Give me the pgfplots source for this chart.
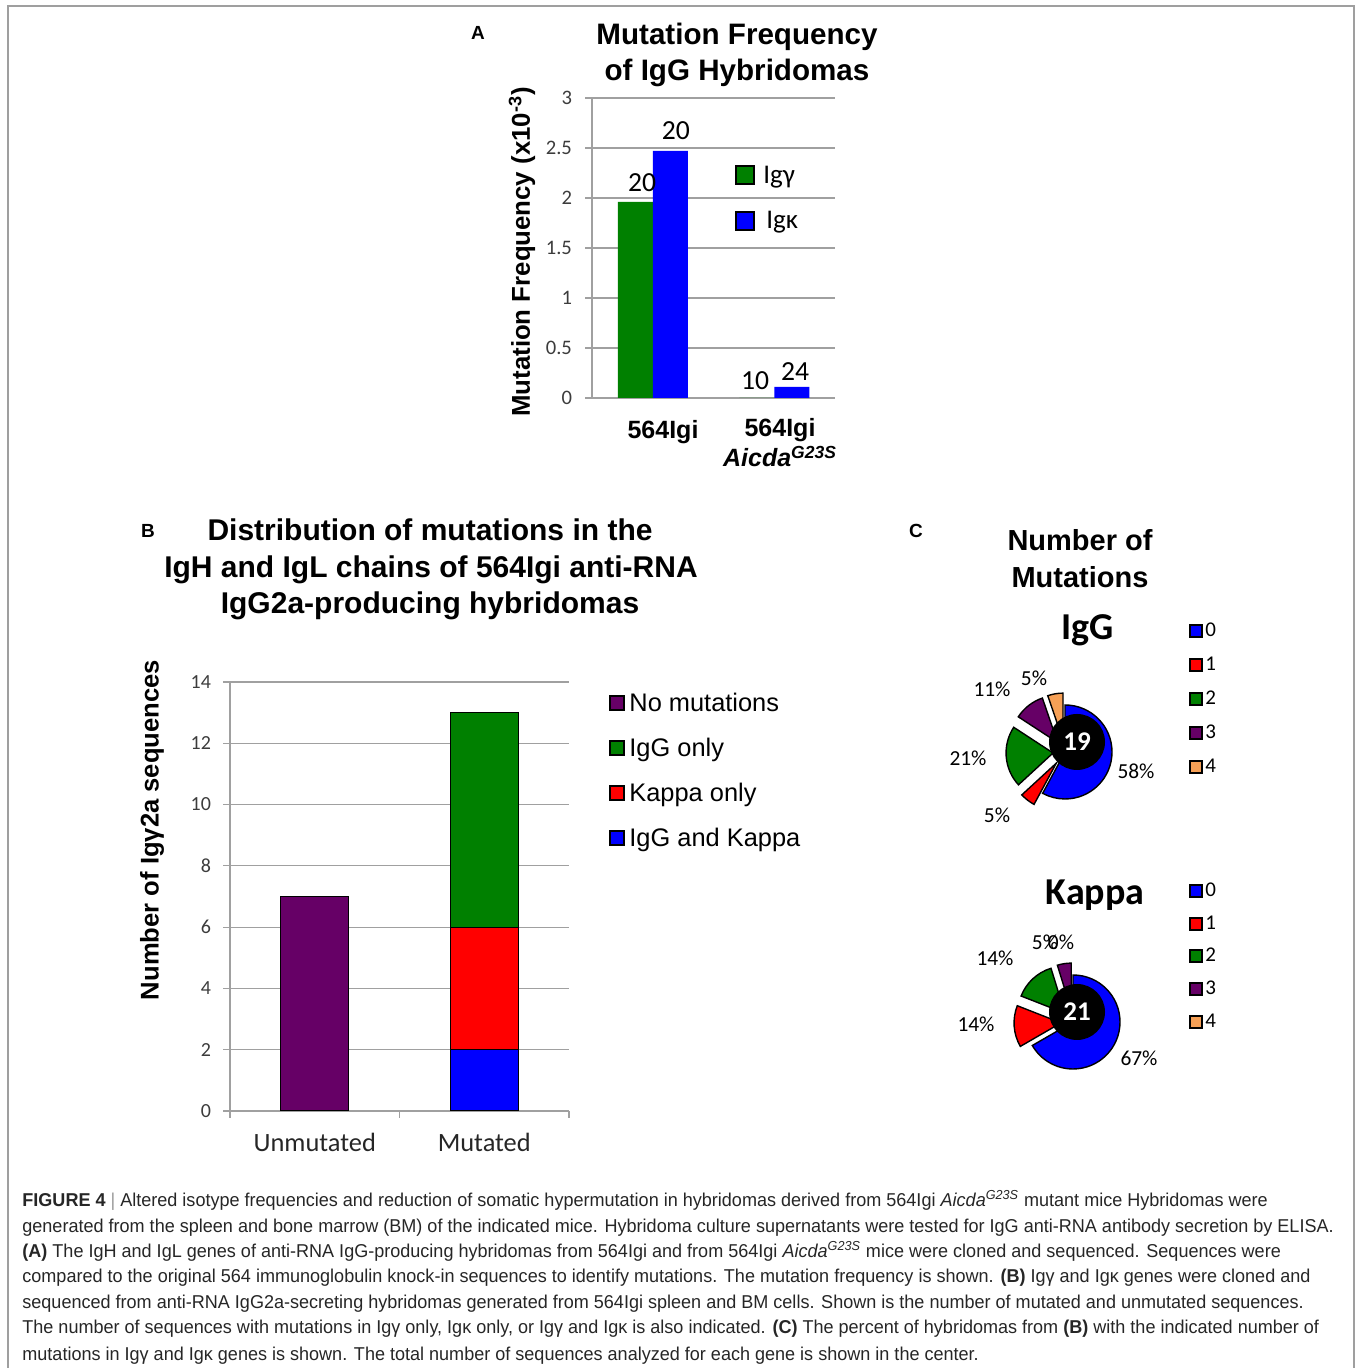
\documentclass[border=0pt]{standalone}
\usepackage{fontspec}
\usepackage{pgfplots}
\pgfplotsset{compat=1.18}
\setmainfont{Liberation Sans}
\newfontfamily\calf{Carlito}
\newfontfamily\capf[FakeStretch=0.97]{Liberation Sans}
\definecolor{pgreen}{RGB}{0,128,0}
\definecolor{pblue}{RGB}{0,0,255}
\definecolor{pred}{RGB}{255,0,0}
\definecolor{ppurple}{RGB}{102,0,102}
\definecolor{porange}{RGB}{246,160,86}
\definecolor{gridgray}{RGB}{160,160,160}
\definecolor{ticktext}{RGB}{60,60,60}
\begin{document}
\begin{tikzpicture}[x=0.5pt,y=0.5pt]
\path[use as bounding box] (0,0) rectangle (1356,1368);
\draw[gray!75, line width=0.8pt] (8,-5) -- (8,1362) -- (1354,1362) -- (1354,-5);

% ---------------- Panel A ----------------
\node[anchor=base, font=\bfseries\fontsize{9.5}{10}\selectfont] at (478,1328) {A};
\node[anchor=base, font=\bfseries\fontsize{14.8}{16}\selectfont] at (737,1323) {Mutation Frequency};
\node[anchor=base, font=\bfseries\fontsize{14.8}{16}\selectfont] at (737,1287) {of IgG Hybridomas};
\begin{axis}[
  at={(296pt,485pt)}, anchor=south west, scale only axis,
  width=121.5pt, height=150pt,
  xmin=-0.5, xmax=1.5, ymin=0, ymax=3,
  ybar=0pt, bar width=17.5pt,
  axis lines=left, axis line style={draw=gridgray, line width=0.6pt, -},
  xtick=\empty,
  ytick={0,0.5,1,1.5,2,2.5,3},
  yticklabels={0,0.5,1,1.5,2,2.5,3},
  ymajorgrids, grid style={draw=gridgray, line width=0.6pt},
  tick align=outside, major tick length=3.5pt,
  ytick style={draw=gridgray, line width=0.6pt},
  yticklabel style={font=\calf\fontsize{10.3}{12}\selectfont, text=ticktext, xshift=-3pt},
  clip=false,
]
\addplot[fill=pgreen, draw=none] coordinates {(0,1.96) (1,0)};
\addplot[fill=pblue, draw=none] coordinates {(0,2.47) (1,0.11)};
\node[font=\calf\fontsize{13.8}{14}\selectfont] at (axis cs:-0.088,2.15) {20};
\node[font=\calf\fontsize{13.8}{14}\selectfont] at (axis cs:0.191,2.67) {20};
\node[font=\calf\fontsize{13.8}{14}\selectfont] at (axis cs:0.842,0.17) {10};
\node[font=\calf\fontsize{13.8}{14}\selectfont] at (axis cs:1.171,0.26) {24};
\end{axis}
\node[rotate=90, font=\bfseries\fontsize{12.9}{14}\selectfont] at (522,1116) {Mutation Frequency (x10\textsuperscript{-3})};
\node[anchor=base, font=\bfseries\fontsize{12.5}{14}\selectfont] at (663,929) {564Igi};
\node[anchor=base, font=\bfseries\fontsize{12.5}{14}\selectfont] at (780,931) {564Igi};
\node[anchor=base, font=\bfseries\itshape\fontsize{12.5}{14}\selectfont] at (780,901) {Aicda\textsuperscript{G23S}};
% legend A
\draw[fill=pgreen, line width=0.8pt] (736,1184) rectangle (754,1202);
\draw[fill=pblue, line width=0.8pt] (736,1138) rectangle (754,1156);
\node[anchor=base west, inner sep=0pt, font=\calf\fontsize{13.5}{14}\selectfont] at (763,1184) {Igγ};
\node[anchor=base west, inner sep=0pt, font=\calf\fontsize{13.5}{14}\selectfont] at (766,1139) {Igκ};

% ---------------- Panel B ----------------
\node[anchor=base, font=\bfseries\fontsize{9.5}{10}\selectfont] at (148,830) {B};
\node[anchor=base, font=\bfseries\fontsize{15}{16}\selectfont] at (430,827) {Distribution of mutations in the};
\node[anchor=base, font=\bfseries\fontsize{15}{16}\selectfont] at (431,790) {IgH and IgL chains of 564Igi anti-RNA};
\node[anchor=base, font=\bfseries\fontsize{15}{16}\selectfont] at (430,754) {IgG2a-producing hybridomas};
\begin{axis}[
  at={(115pt,128.5pt)}, anchor=south west, scale only axis,
  width=169.5pt, height=214.5pt,
  xmin=-0.5, xmax=1.5, ymin=0, ymax=14,
  ybar stacked, bar width=34pt,
  axis lines=left, axis line style={draw=gridgray, line width=0.6pt, -},
  xtick={-0.5,0.5,1.5}, xticklabels={},
  extra x ticks={0,1}, extra x tick labels={Unmutated,Mutated},
  extra x tick style={major tick length=0pt},
  ytick={0,2,4,6,8,10,12,14},
  yticklabels={0,2,4,6,8,10,12,14},
  ymajorgrids, grid style={draw=gridgray, line width=0.6pt},
  tick align=outside, major tick length=3.5pt,
  tick style={draw=gridgray, line width=0.6pt},
  yticklabel style={font=\calf\fontsize{10}{12}\selectfont, text=ticktext, xshift=-2.5pt},
  xticklabel style={font=\calf\fontsize{13.2}{14}\selectfont, text=black!85, yshift=-7.5pt},
  clip=false,
]
\addplot[fill=ppurple, draw=black, line width=0.5pt] coordinates {(0,7) (1,0)};
\addplot[fill=pblue, draw=black, line width=0.5pt] coordinates {(0,0) (1,2)};
\addplot[fill=pred, draw=black, line width=0.5pt] coordinates {(0,0) (1,4)};
\addplot[fill=pgreen, draw=black, line width=0.5pt] coordinates {(0,0) (1,7)};
\end{axis}
\node[rotate=90, font=\bfseries\fontsize{12.8}{14}\selectfont] at (152,538) {Number of Igγ2a sequences};
% legend B
\begin{scope}[every node/.style={anchor=base west, inner sep=0pt, font=\fontsize{12.7}{14}\selectfont}]
\draw[fill=ppurple, line width=0.6pt] (610,658) rectangle (624,672);
\node at (629,656) {No mutations};
\draw[fill=pgreen, line width=0.6pt] (610,613) rectangle (624,627);
\node at (629,611) {IgG only};
\draw[fill=pred, line width=0.6pt] (610,568) rectangle (624,582);
\node at (629,566) {Kappa only};
\draw[fill=pblue, line width=0.6pt] (610,523) rectangle (624,537);
\node at (629,521) {IgG and Kappa};
\end{scope}

% ---------------- Panel C ----------------
\node[anchor=base, font=\bfseries\fontsize{9.5}{10}\selectfont] at (916,830) {C};
\node[anchor=base, font=\bfseries\fontsize{14.5}{16}\selectfont] at (1080,817) {Number of};
\node[anchor=base, font=\bfseries\fontsize{14.5}{16}\selectfont] at (1080,780) {Mutations};
\node[anchor=base, font=\calf\bfseries\fontsize{19}{20}\selectfont] at (1088,728) {IgG};
\node[anchor=base, font=\calf\bfseries\fontsize{19}{20}\selectfont] at (1095,463) {Kappa};

% IgG pie: counts 11,1,4,2,1 of 19
\begin{axis}[at={(502.5pt,278pt)}, anchor=south west, scale only axis,
  width=60pt, height=60pt, xmin=-60, xmax=60, ymin=-60, ymax=60,
  hide axis, clip=false]
\draw[fill=pblue, line width=0.7pt] (axis cs:0,0) -- ++(90:23.5pt) arc[start angle=90, end angle={90-360*11/19}, radius=23.5pt] -- cycle;
\draw[fill=pred, line width=0.7pt, shift={({90-360*11.5/19}:7pt)}] (axis cs:0,0) -- ++({90-360*11/19}:23.5pt) arc[start angle={90-360*11/19}, end angle={90-360*12/19}, radius=23.5pt] -- cycle;
\draw[fill=pgreen, line width=0.7pt, shift={({90-360*14/19}:6pt)}] (axis cs:0,0) -- ++({90-360*12/19}:23.5pt) arc[start angle={90-360*12/19}, end angle={90-360*16/19}, radius=23.5pt] -- cycle;
\draw[fill=ppurple, line width=0.7pt, shift={({90-360*17/19}:6pt)}] (axis cs:0,0) -- ++({90-360*16/19}:23.5pt) arc[start angle={90-360*16/19}, end angle={90-360*18/19}, radius=23.5pt] -- cycle;
\draw[fill=porange, line width=0.7pt, shift={({90-360*18.5/19}:6pt)}] (axis cs:0,0) -- ++({90-360*18/19}:23.5pt) arc[start angle={90-360*18/19}, end angle={90-360*19/19}, radius=23.5pt] -- cycle;
\fill[black] (axis cs:12,10) circle[radius=14pt];
\node[text=white, font=\calf\bfseries\fontsize{13.5}{14}\selectfont] at (axis cs:12,10) {19};
\end{axis}
% Kappa pie: counts 14,3,3,1,0 of 21
\begin{axis}[at={(506.5pt,143pt)}, anchor=south west, scale only axis,
  width=60pt, height=60pt, xmin=-60, xmax=60, ymin=-60, ymax=60,
  hide axis, clip=false]
\draw[fill=pblue, line width=0.7pt] (axis cs:0,0) -- ++(90:23.5pt) arc[start angle=90, end angle={90-360*14/21}, radius=23.5pt] -- cycle;
\draw[fill=pred, line width=0.7pt, shift={({90-360*15.5/21}:6pt)}] (axis cs:0,0) -- ++({90-360*14/21}:23.5pt) arc[start angle={90-360*14/21}, end angle={90-360*17/21}, radius=23.5pt] -- cycle;
\draw[fill=pgreen, line width=0.7pt, shift={({90-360*18.5/21}:6pt)}] (axis cs:0,0) -- ++({90-360*17/21}:23.5pt) arc[start angle={90-360*17/21}, end angle={90-360*20/21}, radius=23.5pt] -- cycle;
\draw[fill=ppurple, line width=0.7pt, shift={({90-360*20.5/21}:6pt)}] (axis cs:0,0) -- ++({90-360*20/21}:23.5pt) arc[start angle={90-360*20/21}, end angle={90-360*21/21}, radius=23.5pt] -- cycle;
\fill[black] (axis cs:4,10) circle[radius=14pt];
\node[text=white, font=\calf\bfseries\fontsize{13.5}{14}\selectfont] at (axis cs:4,10) {21};
\end{axis}
% pie labels
\begin{scope}[every node/.style={font=\calf\fontsize{10.7}{12}\selectfont, inner sep=0pt}]
\node at (992,679) {11\%};
\node at (1034,690) {5\%};
\node at (968,610) {21\%};
\node at (1136,597) {58\%};
\node at (997,553) {5\%};
\node at (995,410) {14\%};
\node at (1045,426) {5\%};
\node at (1061,426) {0\%};
\node at (976,344) {14\%};
\node at (1139,310) {67\%};
\end{scope}
% legends C
\begin{scope}[every node/.style={anchor=base west, inner sep=0pt, font=\calf\fontsize{10.5}{12}\selectfont}]
\draw[fill=pblue, line width=0.6pt] (1190,731) rectangle (1202,743); \node at (1205,731) {0};
\draw[fill=pred, line width=0.6pt] (1190,697) rectangle (1202,709); \node at (1205,697) {1};
\draw[fill=pgreen, line width=0.6pt] (1190,663) rectangle (1202,675); \node at (1205,663) {2};
\draw[fill=ppurple, line width=0.6pt] (1190,629) rectangle (1202,641); \node at (1205,629) {3};
\draw[fill=porange, line width=0.6pt] (1190,595) rectangle (1202,607); \node at (1205,595) {4};
\draw[fill=pblue, line width=0.6pt] (1190,471) rectangle (1202,483); \node at (1205,471) {0};
\draw[fill=pred, line width=0.6pt] (1190,438) rectangle (1202,450); \node at (1205,438) {1};
\draw[fill=pgreen, line width=0.6pt] (1190,406) rectangle (1202,418); \node at (1205,406) {2};
\draw[fill=ppurple, line width=0.6pt] (1190,373) rectangle (1202,385); \node at (1205,373) {3};
\draw[fill=porange, line width=0.6pt] (1190,340) rectangle (1202,352); \node at (1205,340) {4};
\end{scope}

% ---------------- Caption ----------------
\begin{scope}[every node/.style={anchor=base west, inner sep=0pt, font=\capf\fontsize{9.3}{11}\selectfont, text=black!85}]
\node at (22,161) {\textbf{FIGURE 4} {\color{black!40}|} Altered isotype frequencies and reduction of somatic hypermutation in hybridomas derived from 564Igi \textit{Aicda}\textsuperscript{\itshape G23S} mutant mice Hybridomas were};
\node at (22,135) {generated from the spleen and bone marrow (BM) of the indicated mice. Hybridoma culture supernatants were tested for IgG anti-RNA antibody secretion by ELISA.};
\node at (22,110) {\textbf{(A)} The IgH and IgL genes of anti-RNA IgG-producing hybridomas from 564Igi and from 564Igi \textit{Aicda}\textsuperscript{\itshape G23S} mice were cloned and sequenced. Sequences were};
\node at (22,85) {compared to the original 564 immunoglobulin knock-in sequences to identify mutations. The mutation frequency is shown. \textbf{(B)} Igγ and Igκ genes were cloned and};
\node at (22,59) {sequenced from anti-RNA IgG2a-secreting hybridomas generated from 564Igi spleen and BM cells. Shown is the number of mutated and unmutated sequences.};
\node at (22,34) {The number of sequences with mutations in Igγ only, Igκ only, or Igγ and Igκ is also indicated. \textbf{(C)} The percent of hybridomas from \textbf{(B)} with the indicated number of};
\node at (22,8) {mutations in Igγ and Igκ genes is shown. The total number of sequences analyzed for each gene is shown in the center.};
\end{scope}
\end{tikzpicture}
\end{document}
